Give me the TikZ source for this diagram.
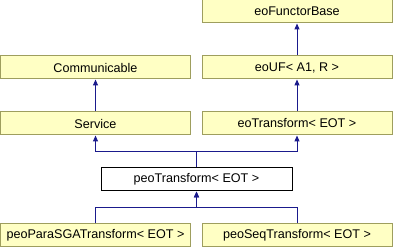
\documentclass[tikz,border=0pt]{standalone}
\usepackage{fontspec}
\setmainfont{Liberation Sans}
\usetikzlibrary{arrows.meta}
\definecolor{boxfill}{HTML}{FFFFC4}
\definecolor{boxline}{HTML}{9E9E5E}
\definecolor{edgecol}{HTML}{1A1A8C}
\begin{document}
\begin{tikzpicture}[x=1pt,y=-1pt,
  cls/.style={draw=boxline,fill=boxfill,line width=1pt,minimum width=190pt,minimum height=23pt,inner sep=0pt,font=\fontsize{12.6pt}{14pt}\selectfont},
  cur/.style={cls,draw=black,fill=white,minimum width=191pt},
  inh/.style={draw=edgecol,line width=1pt,-{Triangle[width=5pt,length=6pt]}}]
\useasboundingbox (0,0) rectangle (394,248);
\node[cls] (base) at (297,11.5) {eoFunctorBase};
\node[cls] (comm) at (95.5,67.5) {Communicable};
\node[cls] (uf) at (297,67.5) {eoUF< A1, R >};
\node[cls] (svc) at (95.5,123.5) {Service};
\node[cls] (eot) at (297,123.5) {eoTransform< EOT >};
\node[cur] (peo) at (196.5,179.5) {peoTransform< EOT >};
\node[cls] (para) at (95.5,235.5) {peoParaSGATransform< EOT >};
\node[cls] (seq) at (297,235.5) {peoSeqTransform< EOT >};
\coordinate (j1) at (196.5,152);
\coordinate (j2) at (196.5,208);
\draw[inh] (uf.north) -- (base.south);
\draw[inh] (eot.north) -- (uf.south);
\draw[inh] (svc.north) -- (comm.south);
\draw[inh] (peo.north) -- (j1) -| (svc.south);
\draw[inh] (j1) -| (eot.south);
\draw[inh] (para.north) |- (j2) -- (peo.south);
\draw[inh] (seq.north) |- (j2) -- (peo.south);
\end{tikzpicture}
\end{document}
